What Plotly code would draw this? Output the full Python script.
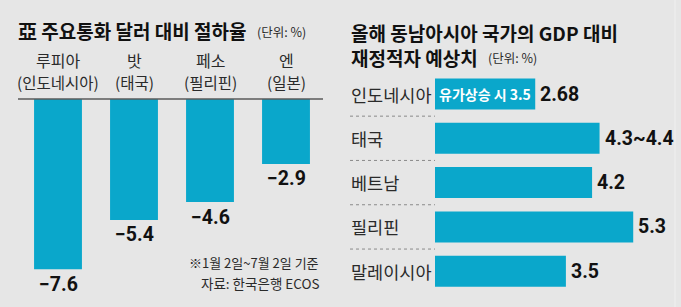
import plotly.graph_objects as go

# ---------------- data ----------------
currencies = ["루피아", "밧", "페소", "엔"]
currency_countries = ["(인도네시아)", "(태국)", "(필리핀)", "(일본)"]
depreciation = [-7.6, -5.4, -4.6, -2.9]

countries = ["인도네시아", "태국", "베트남", "필리핀", "말레이시아"]
deficit = [2.68, 4.4, 4.2, 5.3, 3.5]
deficit_labels = ["2.68", "4.3~4.4", "4.2", "5.3", "3.5"]
indonesia_note = "유가상승 시 3.5"

title_left = "亞 주요통화 달러 대비 절하율"
title_right_1 = "올해 동남아시아 국가의 GDP 대비"
title_right_2 = "재정적자 예상치"
unit_text = "(단위: %)"
note_period = "※1월 2일~7월 2일 기준"
note_source = "자료: 한국은행 ECOS"

# ---------------- style ----------------
W, H = 681, 307
BG = "#e6e6e6"
BAR = "#0aa7cb"
KR = "Noto Sans CJK KR"
NUM = "Roboto, Noto Sans CJK KR"
TXT = "#2a2a2a"
TITLE_SIZE = 19
NUM_SIZE = 19.5


def px(x):
    return x / W


def py(y):
    return 1 - y / H


fig = go.Figure()

# left chart
fig.add_trace(go.Bar(
    x=currencies, y=depreciation, marker_color=BAR, marker_line_width=0,
    xaxis="x", yaxis="y", width=0.63, hoverinfo="skip"))

# right chart
fig.add_trace(go.Bar(
    x=deficit, y=countries, orientation="h", marker_color=BAR,
    marker_line_width=0, xaxis="x2", yaxis="y2", width=0.70, hoverinfo="skip"))

left_px_per_unit = 22.4
base_y = 99
right_px_per_unit = 37.4
right_left = 435
row_top = 71.85
row_bottom = 293.35

fig.update_layout(
    width=W, height=H, autosize=False,
    margin=dict(l=0, r=0, t=0, b=0),
    paper_bgcolor=BG, plot_bgcolor=BG,
    showlegend=False,
    xaxis=dict(domain=[px(20), px(324)], type="category", range=[-0.5, 3.5],
               visible=False, fixedrange=True),
    yaxis=dict(domain=[0, py(base_y)], range=[-(H - base_y) / left_px_per_unit, 0],
               visible=False, fixedrange=True),
    xaxis2=dict(domain=[px(right_left), 1], range=[0, (W - right_left) / right_px_per_unit],
                visible=False, anchor="y2", fixedrange=True),
    yaxis2=dict(domain=[py(row_bottom), py(row_top)], type="category",
                range=[len(countries) - 0.5, -0.5], visible=False, anchor="x2",
                fixedrange=True),
)

shapes = []
# left baseline
shapes.append(dict(type="line", xref="paper", yref="paper", x0=px(18), x1=px(323),
                   y0=py(base_y), y1=py(base_y), line=dict(color="#5a5a5a", width=1.5)))
# dotted separators right
for i in range(len(countries) - 1):
    shapes.append(dict(type="line", xref="paper", yref="y2", x0=px(350), x1=px(435),
                       y0=i + 0.5, y1=i + 0.5, line=dict(color="#8a8a8a", width=1, dash="dot")))
# faint right edge
shapes.append(dict(type="line", xref="paper", yref="paper", x0=px(675), x1=px(675),
                   y0=0, y1=1, line=dict(color="#f0f0f0", width=1)))
fig.update_layout(shapes=shapes)

ann = []
# titles
ann.append(dict(text=f"<b>{title_left}</b>", xref="paper", yref="paper", x=px(16), y=py(30),
                xanchor="left", yanchor="middle", showarrow=False,
                font=dict(family=KR, size=TITLE_SIZE, color="#111")))
ann.append(dict(text=unit_text, xref="paper", yref="paper", x=px(255), y=py(31),
                xanchor="left", yanchor="middle", showarrow=False,
                font=dict(family=KR, size=12.5, color=TXT)))
ann.append(dict(text=f"<b>{title_right_1}</b><br><b>{title_right_2}</b>", xref="paper",
                yref="paper", x=px(349), y=py(45), xanchor="left", yanchor="middle",
                align="left", showarrow=False,
                font=dict(family=KR, size=TITLE_SIZE, color="#111")))
ann.append(dict(text=unit_text, xref="paper", yref="paper", x=px(486), y=py(58),
                xanchor="left", yanchor="middle", showarrow=False,
                font=dict(family=KR, size=12.5, color=TXT)))

# left category labels
for c, cc in zip(currencies, currency_countries):
    ann.append(dict(text=c, xref="x", yref="paper", x=c, y=py(60), xanchor="center",
                    yanchor="middle", showarrow=False,
                    font=dict(family=KR, size=16, color=TXT)))
    ann.append(dict(text=cc, xref="x", yref="paper", x=c, y=py(82), xanchor="center",
                    yanchor="middle", showarrow=False,
                    font=dict(family=KR, size=15.5, color=TXT)))

# left value labels
for c, v in zip(currencies, depreciation):
    ann.append(dict(text=f"<b>{v:.1f}</b>".replace("-", "−"), xref="x", yref="y", x=c, y=v,
                    xanchor="center", yanchor="top", yshift=-1.5, showarrow=False,
                    font=dict(family=NUM, size=NUM_SIZE, color="#111")))

# notes
ann.append(dict(text=note_period, xref="paper", yref="paper", x=px(321), y=py(262),
                xanchor="right", yanchor="middle", showarrow=False,
                font=dict(family=KR, size=13, color=TXT)))
ann.append(dict(text=note_source, xref="paper", yref="paper", x=px(322), y=py(283),
                xanchor="right", yanchor="middle", showarrow=False,
                font=dict(family=KR, size=13.5, color=TXT)))

# right row labels and values
for c, v, lab in zip(countries, deficit, deficit_labels):
    ann.append(dict(text=c, xref="paper", yref="y2", x=px(349), y=c, xanchor="left",
                    yanchor="middle", showarrow=False,
                    font=dict(family=KR, size=17.5, color=TXT)))
    ann.append(dict(text=f"<b>{lab}</b>", xref="x2", yref="y2", x=v, y=c, xanchor="left",
                    yanchor="middle", xshift=3, showarrow=False,
                    font=dict(family=NUM, size=NUM_SIZE, color="#111")))

# inner note on Indonesia bar
ann.append(dict(text=f"<b>{indonesia_note}</b>", xref="x2", yref="y2", x=deficit[0] / 2,
                y=countries[0], xanchor="center", yanchor="middle", showarrow=False,
                font=dict(family=KR, size=14, color="white")))

fig.update_layout(annotations=ann)

fig.write_html("out.html")
